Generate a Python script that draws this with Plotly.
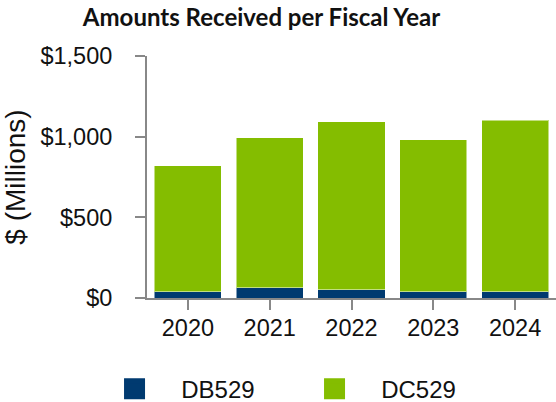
import plotly.graph_objects as go

years = ["2020", "2021", "2022", "2023", "2024"]
db529 = [39, 64, 51, 39, 39]
dc529 = [781, 929, 1041, 941, 1064]
y_ticks = [0, 500, 1000, 1500]
y_labels = ["$0", "$500", "$1,000", "$1,500"]

navy = "#003a70"
green = "#84bd00"
pad = "\u00a0" * 4

fig = go.Figure()
fig.add_bar(x=years, y=db529, name="DB529", marker_color=navy,
            marker_line=dict(color="rgba(255,255,255,0.5)", width=1), showlegend=False)
fig.add_bar(x=years, y=dc529, name="DC529", marker_color=green,
            marker_line=dict(color="rgba(255,255,255,0.5)", width=1), showlegend=False)

# legend entries as big squares
for name, col in [("DB529", navy), ("DC529", green)]:
    fig.add_scatter(x=[None], y=[None], mode="markers", name=pad + name,
                    marker=dict(symbol="square", size=16, color=col,
                                line=dict(color=col, width=5)))

fig.update_layout(
    barmode="stack",
    bargap=0.18,
    width=556, height=402,
    margin=dict(l=147, r=0, t=56, b=104),
    plot_bgcolor="white", paper_bgcolor="white",
    font=dict(family="Liberation Sans, Arial", size=23.5, color="#111"),
    title=dict(text="<b>Amounts Received per Fiscal Year</b>", xref="paper", x=0.28,
               xanchor="center", yref="container", y=0.955, yanchor="middle",
               font=dict(family="Lato", size=24, color="#111")),
    legend=dict(orientation="h", xref="container", x=0.206, xanchor="left",
                yref="container", y=0.032, yanchor="middle",
                entrywidth=155, itemsizing="trace", tracegroupgap=0,
                traceorder="normal", font=dict(size=24)),
)
fig.update_xaxes(showline=True, linecolor="#888", linewidth=2, ticks="outside",
                 ticklen=10, tickcolor="#888", tickwidth=2, ticklabelstandoff=-2,
                 automargin=False)
fig.update_yaxes(range=[0, 1500], tickvals=y_ticks, ticktext=y_labels,
                 showgrid=False, zeroline=False, automargin=False,
                 showline=True, linecolor="#888", linewidth=2, ticks="outside",
                 ticklen=10, tickcolor="#888", tickwidth=2, ticklabelstandoff=18,
                 title=dict(text="$ (Millions)", standoff=8))

fig.write_html("out.html", config={"displayModeBar": False},
               post_script="document.body.style.margin='0';")
